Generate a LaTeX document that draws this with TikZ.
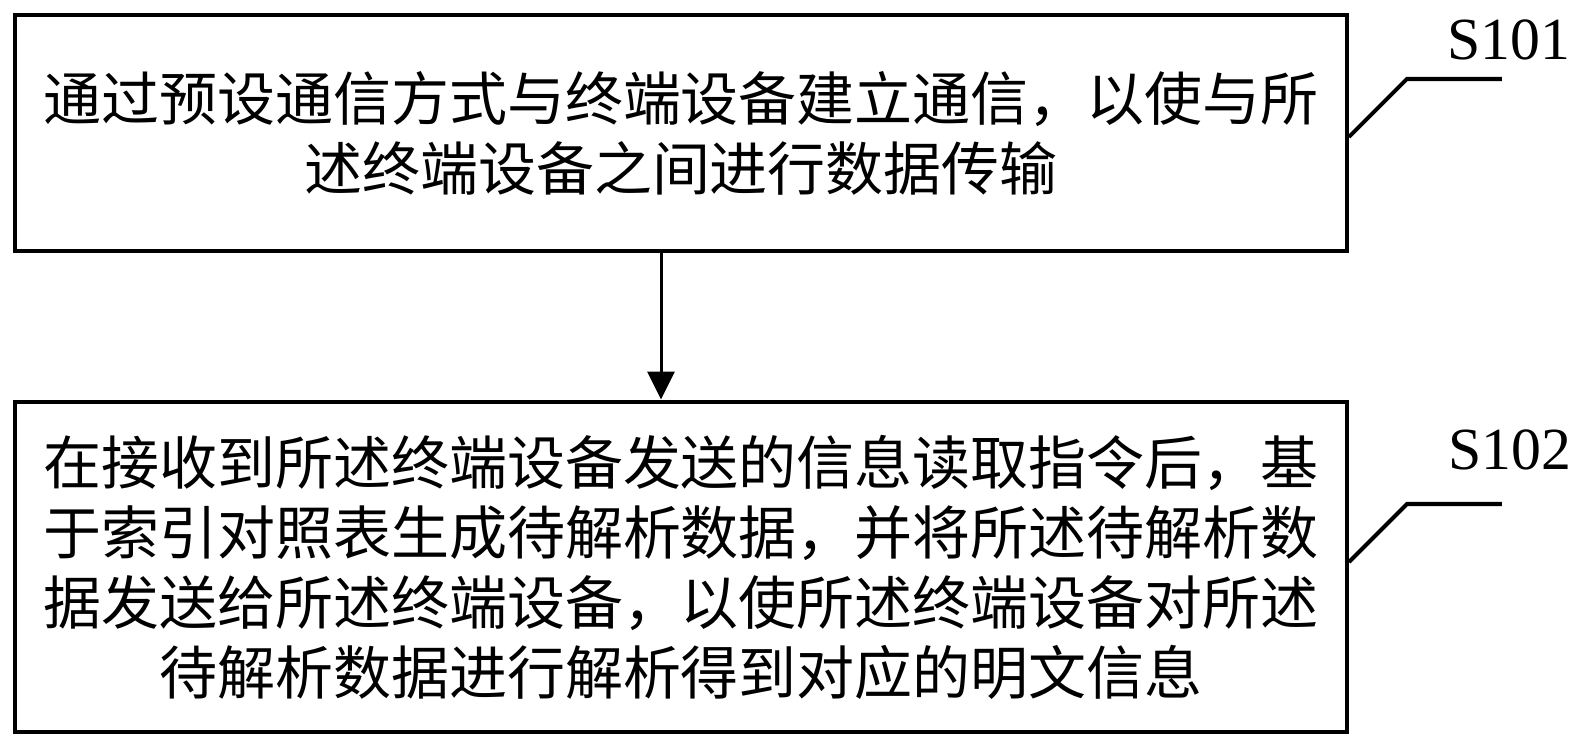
\documentclass[tikz,border=0pt]{standalone}
\usepackage{fontspec}
\setmainfont{Liberation Serif}
\newfontfamily\cjk{Noto Sans CJK SC}
\usetikzlibrary{arrows.meta}

\begin{document}
\begin{tikzpicture}[x=0.02cm,y=0.02cm,
  stepbox/.style={draw,line width=2.3pt,inner sep=0pt,align=center,text width=26cm,
    minimum width=26.64cm,font=\cjk\fontsize{33}{39.8}\selectfont},
  leader/.style={line width=2.3pt},
  steplabel/.style={font=\fontsize{34}{40}\selectfont,inner sep=0pt,anchor=base}]
\useasboundingbox (0,0) rectangle (1580,747);
\node[stepbox,minimum height=4.72cm] (s1) at (681,614) {通过预设通信方式与终端设备建立通信，以使与所\\述终端设备之间进行数据传输};
\node[stepbox,minimum height=6.62cm] (s2) at (681,180) {在接收到所述终端设备发送的信息读取指令后，基\\于索引对照表生成待解析数据，并将所述待解析数\\据发送给所述终端设备，以使所述终端设备对所述\\待解析数据进行解析得到对应的明文信息};
\draw[line width=1.7pt,-{Triangle[length=0.56cm,width=0.54cm]}] ([xshift=-0.4cm]s1.south) -- ([xshift=-0.4cm]s2.north);
% step labels
\draw[leader] ([yshift=-0.08cm]s1.east) -- ++(58,58) -- ++(95,0);
\draw[leader] ([yshift=0.1cm]s2.east) -- ++(58,58) -- ++(95,0);
\node[steplabel] (l1) at (1509,687) {S101};
\node[steplabel] (l2) at (1510,277) {S102};
\end{tikzpicture}
\end{document}
